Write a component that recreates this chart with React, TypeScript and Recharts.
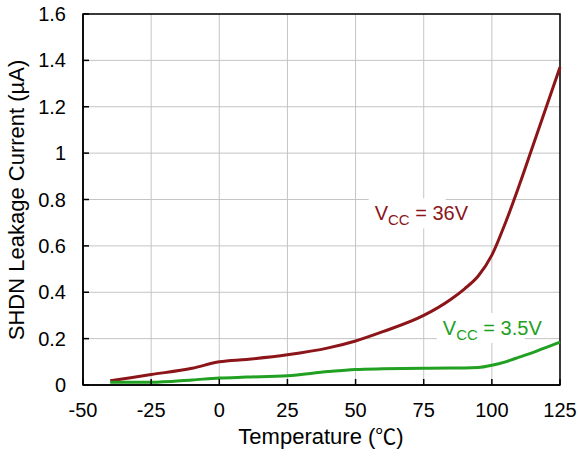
import { LineChart, Line, XAxis, YAxis, CartesianGrid, ReferenceArea, ReferenceDot, Label } from 'recharts';

const temps = [-40, -25, -10, 0, 10, 25, 40, 50, 60, 75, 85, 90, 95, 100, 105, 110, 115, 120, 125];
const vcc36 = [0.018, 0.045, 0.072, 0.1, 0.11, 0.13, 0.16, 0.19, 0.23, 0.3, 0.37, 0.415, 0.47, 0.56, 0.7, 0.86, 1.03, 1.2, 1.37];
const vcc35 = [0.012, 0.012, 0.022, 0.03, 0.034, 0.04, 0.058, 0.067, 0.07, 0.072, 0.073, 0.073, 0.075, 0.085, 0.1, 0.12, 0.14, 0.162, 0.185];
const xTicks = [-50, -25, 0, 25, 50, 75, 100, 125];
const yTicks = [0, 0.2, 0.4, 0.6, 0.8, 1, 1.2, 1.4, 1.6];

const data = temps.map((t, i) => ({ t, v36: vcc36[i], v35: vcc35[i] }));

const RED = '#8c1519';
const GREEN = '#22a022';
const FONT = '"Liberation Sans", Arial, sans-serif';

const VccLabel = ({ cx, cy, value, color }: any) => (
    <g>
        <rect x={cx - 6} y={cy - 22} width={value.length * 11 + 44} height={30} fill="#fff" />
        <text x={cx} y={cy} fontSize={20} fill={color} fontFamily={FONT}>
            <tspan>V</tspan>
            <tspan fontSize={15} dy={5}>CC</tspan>
            <tspan dy={-5}>{' = ' + value}</tspan>
        </text>
    </g>
);

const formatY = (v: number) => String(Math.round(v * 10) / 10);

export default function App() {
    return (
        <div style={{ position: 'absolute', left: 0, top: 0, fontFamily: FONT }}>
            <LineChart width={578} height={456} data={data} margin={{ top: 14, right: 18, left: 0, bottom: 0 }}>
                <CartesianGrid stroke="#c4c4c4" strokeWidth={1} />
                <XAxis
                    dataKey="t"
                    type="number"
                    domain={[-50, 125]}
                    ticks={xTicks}
                    height={71}
                    tickSize={-6}
                    tickMargin={24}
                    axisLine={{ stroke: '#000', strokeWidth: 1.5 }}
                    tickLine={{ stroke: '#000', strokeWidth: 1.5 }}
                    tick={{ fill: '#000', fontSize: 20, fontFamily: FONT }}
                >
                    <Label
                        content={() => (
                            <text x={321} y={444} textAnchor="middle" fontSize={22} fontFamily={FONT} fill="#000">
                                Temperature (<tspan fontFamily='"Noto Sans CJK SC", sans-serif' fontSize={21}>℃</tspan>)
                            </text>
                        )}
                    />
                </XAxis>
                <YAxis
                    type="number"
                    domain={[0, 1.6]}
                    ticks={yTicks}
                    width={83}
                    tickSize={-6}
                    tickMargin={23}
                    tickFormatter={formatY}
                    axisLine={{ stroke: '#000', strokeWidth: 1.5 }}
                    tickLine={{ stroke: '#000', strokeWidth: 1.5 }}
                    tick={{ fill: '#000', fontSize: 20, fontFamily: FONT }}
                >
                    <Label
                        content={() => (
                            <text x={24} y={200} transform="rotate(-90 24 200)" textAnchor="middle" fontSize={22} fontFamily={FONT} fill="#000">
                                SHDN Leakage Current (µA)
                            </text>
                        )}
                    />
                </YAxis>
                <ReferenceArea x1={-50} x2={125} y1={0} y2={1.6} fill="none" stroke="#000" strokeWidth={1.5} />
                <Line type="monotone" dataKey="v36" stroke={RED} strokeWidth={3} dot={false} isAnimationActive={false} />
                <Line type="monotone" dataKey="v35" stroke={GREEN} strokeWidth={3} dot={false} isAnimationActive={false} />
                <ReferenceDot x={57} y={0.71} r={0} shape={(p: any) => <VccLabel cx={p.cx} cy={p.cy} value="36V" color={RED} />} />
                <ReferenceDot x={82} y={0.216} r={0} shape={(p: any) => <VccLabel cx={p.cx} cy={p.cy} value="3.5V" color={GREEN} />} />
            </LineChart>
        </div>
    );
}
